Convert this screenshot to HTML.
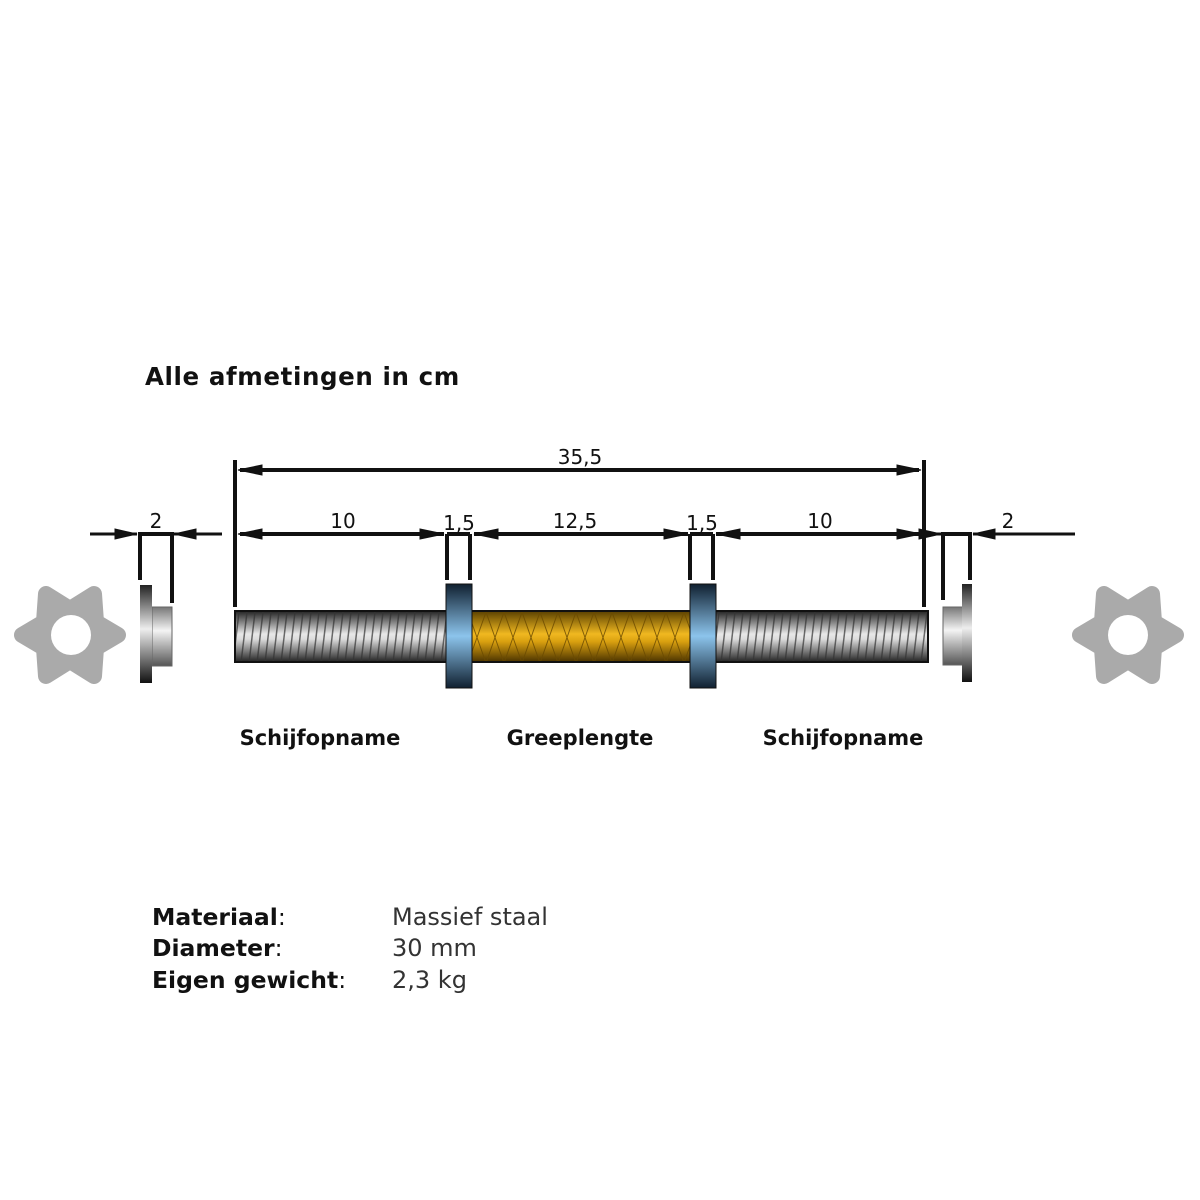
<!DOCTYPE html>
<html><head><meta charset="utf-8"><style>
html,body{margin:0;padding:0;background:#fff}
svg{display:block}
text{font-family:"DejaVu Sans","Liberation Sans",sans-serif}
</style></head><body>
<svg width="1200" height="1200" viewBox="0 0 1200 1200" xmlns="http://www.w3.org/2000/svg">
<defs>
<linearGradient id="steel" x1="0" y1="0" x2="0" y2="1">
<stop offset="0" stop-color="#222"/><stop offset="0.45" stop-color="#e8e8e8"/><stop offset="0.55" stop-color="#ddd"/><stop offset="1" stop-color="#222"/>
</linearGradient>
<linearGradient id="gold" x1="0" y1="0" x2="0" y2="1">
<stop offset="0" stop-color="#5a4000"/><stop offset="0.45" stop-color="#f0b820"/><stop offset="0.6" stop-color="#d9a010"/><stop offset="1" stop-color="#4a3300"/>
</linearGradient>
<linearGradient id="collar" x1="0" y1="0" x2="0" y2="1">
<stop offset="0" stop-color="#102030"/><stop offset="0.5" stop-color="#8cc4ec"/><stop offset="1" stop-color="#102030"/>
</linearGradient>
<linearGradient id="hub" x1="0" y1="0" x2="0" y2="1">
<stop offset="0" stop-color="#777"/><stop offset="0.4" stop-color="#f4f4f4"/><stop offset="1" stop-color="#555"/>
</linearGradient>
<linearGradient id="flange" x1="0" y1="0" x2="0" y2="1">
<stop offset="0" stop-color="#222"/><stop offset="0.45" stop-color="#eee"/><stop offset="1" stop-color="#111"/>
</linearGradient>
<pattern id="thread" width="8" height="51" patternUnits="userSpaceOnUse">
<line x1="7" y1="0" x2="1" y2="51" stroke="#333" stroke-width="1.5" opacity="0.7"/>
</pattern>
<pattern id="hatch" width="18" height="51" patternUnits="userSpaceOnUse">
<path d="M0 0 L18 51 M18 0 L0 51" stroke="#6a4a00" stroke-width="1" fill="none" opacity="0.8"/>
</pattern>
</defs>

<text x="145" y="385" font-size="24.5" letter-spacing="0.6" font-weight="bold" fill="#111">Alle afmetingen in cm</text>

<g stroke="#111" fill="#111">
<line x1="235" y1="460" x2="235" y2="607" stroke-width="4"/>
<line x1="924" y1="460" x2="924" y2="607" stroke-width="4"/>
<line x1="240" y1="470" x2="919" y2="470" stroke-width="4"/>
<polygon points="238,470 262,465 262,475"/><polygon points="921,470 897,465 897,475"/>

<line x1="240" y1="534" x2="444" y2="534" stroke-width="4"/>
<polygon points="238,534 262,529 262,539"/><polygon points="444,534 420,529 420,539"/>
<line x1="474" y1="534" x2="688" y2="534" stroke-width="4"/>
<polygon points="474,534 498,529 498,539"/><polygon points="688,534 664,529 664,539"/>
<line x1="716" y1="534" x2="919" y2="534" stroke-width="4"/>
<polygon points="716,534 740,529 740,539"/><polygon points="921,534 897,529 897,539"/>

<line x1="447" y1="534" x2="447" y2="580" stroke-width="4"/>
<line x1="470" y1="534" x2="470" y2="580" stroke-width="4"/>
<line x1="447" y1="534" x2="470" y2="534" stroke-width="4"/>
<line x1="690" y1="534" x2="690" y2="580" stroke-width="4"/>
<line x1="713" y1="534" x2="713" y2="580" stroke-width="4"/>
<line x1="690" y1="534" x2="713" y2="534" stroke-width="4"/>

<line x1="90" y1="534" x2="137" y2="534" stroke-width="3"/>
<polygon points="137,534 115,529 115,539"/>
<line x1="174" y1="534" x2="222" y2="534" stroke-width="3"/>
<polygon points="174,534 196,529 196,539"/>
<line x1="140" y1="534" x2="172" y2="534" stroke-width="4"/>
<line x1="140" y1="532" x2="140" y2="580" stroke-width="4"/>
<line x1="172" y1="532" x2="172" y2="603" stroke-width="4"/>
<line x1="900" y1="534" x2="941" y2="534" stroke-width="3"/>
<polygon points="941,534 919,529 919,539"/>
<line x1="973" y1="534" x2="1075" y2="534" stroke-width="3"/>
<polygon points="973,534 995,529 995,539"/>
<line x1="943" y1="534" x2="970" y2="534" stroke-width="4"/>
<line x1="943" y1="532" x2="943" y2="600" stroke-width="4"/>
<line x1="970" y1="532" x2="970" y2="580" stroke-width="4"/>
</g>

<g font-size="20" fill="#111" text-anchor="middle">
<text x="580" y="464">35,5</text>
<text x="343" y="528">10</text>
<text x="459" y="530">1,5</text>
<text x="575" y="528">12,5</text>
<text x="702" y="530">1,5</text>
<text x="820" y="528">10</text>
<text x="156" y="528">2</text>
<text x="1008" y="528">2</text>
</g>

<rect x="235" y="611" width="693" height="51" fill="url(#steel)"/>
<rect x="235" y="611" width="693" height="51" fill="url(#thread)"/>
<rect x="472" y="611" width="218" height="51" fill="url(#gold)"/>
<rect x="472" y="611" width="218" height="51" fill="url(#hatch)"/>
<rect x="235" y="611" width="693" height="51" fill="none" stroke="#111" stroke-width="2"/>
<rect x="446" y="584" width="26" height="104" fill="url(#collar)" stroke="#111" stroke-width="1"/>
<rect x="690" y="584" width="26" height="104" fill="url(#collar)" stroke="#111" stroke-width="1"/>

<rect x="152" y="607" width="20" height="59" fill="url(#hub)" stroke="#666" stroke-width="1"/>
<rect x="140" y="585" width="12" height="98" fill="url(#flange)"/>
<rect x="943" y="607" width="20" height="58" fill="url(#hub)" stroke="#666" stroke-width="1"/>
<rect x="962" y="584" width="10" height="98" fill="url(#flange)"/>

<g fill="#aaa" stroke="#aaa" stroke-width="16" stroke-linejoin="round">
<polygon points="118,635 96,648 94,676 70,661 46,676 44,648 22,635 44,622 46,594 70,609 94,594 96,622"/>
<polygon points="1176,635 1154,648 1152,676 1128,661 1104,676 1102,648 1080,635 1102,622 1104,594 1128,609 1152,594 1154,622"/>
</g>
<circle cx="71" cy="635" r="20" fill="#fff"/>
<circle cx="1128" cy="635" r="20" fill="#fff"/>

<g font-size="21" font-weight="bold" fill="#111" text-anchor="middle">
<text x="320" y="745">Schijfopname</text>
<text x="580" y="745">Greeplengte</text>
<text x="843" y="745">Schijfopname</text>
</g>

<g font-size="23.5" fill="#111">
<text x="152" y="925" font-weight="bold">Materiaal<tspan font-weight="normal">:</tspan></text>
<text x="152" y="956" font-weight="bold">Diameter<tspan font-weight="normal">:</tspan></text>
<text x="152" y="988" font-weight="bold">Eigen gewicht<tspan font-weight="normal">:</tspan></text>
<text x="392" y="925" fill="#333" font-size="24">Massief staal</text>
<text x="392" y="956" fill="#333" font-size="24">30 mm</text>
<text x="392" y="988" fill="#333" font-size="24">2,3 kg</text>
</g>
</svg>
</body></html>
